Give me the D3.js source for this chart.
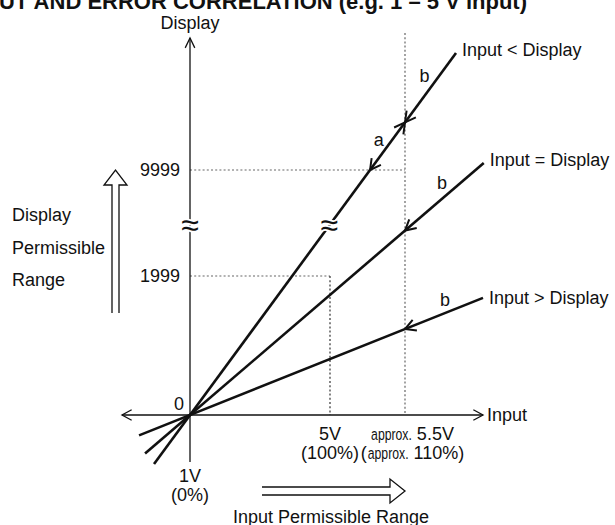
<!DOCTYPE html>
<html>
<head>
<meta charset="utf-8">
<script src="https://d3js.org/d3.v7.min.js"></script>
<style>
  html, body { margin: 0; padding: 0; background: #fff; }
  svg { display: block; }
  text { font-family: "Liberation Sans", Arial, Helvetica, sans-serif; fill: #111; }
</style>
</head>
<body>
<div id="chart"></div>
<script>
// ── chart values (schematic: input in % of span, display in counts) ──
const titleText = 'INPUT AND ERROR CORRELATION (e.g. 1 \u2013 5 V input)';

const xTickValues = [0, 100, 110];
const xTickLine1 = ['1V', '5V', 'approx. 5.5V'];
const xTickLine2 = ['(0%)', '(100%)', '(approx. 110%)'];

const yTickValues = [0, 1999, 9999];
const yTickLabels = ['0', '1999', '9999'];

const lineNames = ['Input < Display', 'Input = Display', 'Input > Display'];
const lineStartX = [-25.7, -32.1, -36.4];
const lineStartY = [-705, -555, -293];
const lineEndX = [116.8, 120.5, 120.4];
const lineEndY = [18829, 10527, 1685];

const breakValue = 5800;          // where the display axis is broken (≈)
const overRangeInput = 110;       // vertical dotted guide
const overRangeDisplay = 9999;    // horizontal dotted guide

const width = 615, height = 525;
const fs = 18;

// piecewise scales: the diagram is not to scale above 100 % / 1999
const x = d3.scaleLinear().domain([0, 100, 110]).range([190, 330, 405]);
const y = d3.scaleLinear().domain([0, 1999, 9999]).range([415, 276, 170]);

const svg = d3.select('#chart').append('svg')
    .attr('width', width)
    .attr('height', height);

// title (clipped at the top in the original)
svg.append('text')
    .attr('x', 527).attr('y', 9)
    .attr('text-anchor', 'end')
    .attr('font-size', 22)
    .attr('font-weight', 'bold')
    .text(titleText);

// ── dotted guides ──
const guides = svg.append('g')
    .attr('stroke', '#666')
    .attr('stroke-width', 1.2)
    .attr('stroke-dasharray', '2,2.2')
    .attr('fill', 'none');

guides.append('line')
    .attr('x1', x(0)).attr('x2', x(overRangeInput))
    .attr('y1', y(overRangeDisplay)).attr('y2', y(overRangeDisplay));
guides.append('line')
    .attr('x1', x(0)).attr('x2', x(100))
    .attr('y1', y(1999)).attr('y2', y(1999));
guides.append('line')
    .attr('x1', x(100)).attr('x2', x(100))
    .attr('y1', y(1999)).attr('y2', y(0))
    .attr('stroke', '#333');
guides.append('line')
    .attr('x1', x(overRangeInput)).attr('x2', x(overRangeInput))
    .attr('y1', 33).attr('y2', y(0));

// ── axes ──
const axes = svg.append('g').attr('stroke', '#111').attr('stroke-width', 1.3).attr('fill', 'none');
const ox = x(0), oy = y(0);
axes.append('line').attr('x1', ox).attr('x2', ox).attr('y1', 462).attr('y2', 38);
axes.append('line').attr('x1', 122).attr('x2', 483).attr('y1', oy).attr('y2', oy);

function openHead(g, tx, ty, angle, len, spread) {
    // angle = direction the arrow points (radians)
    const a1 = angle + Math.PI - spread, a2 = angle + Math.PI + spread;
    g.append('path')
        .attr('d', `M${tx + len * Math.cos(a1)},${ty + len * Math.sin(a1)} L${tx},${ty} L${tx + len * Math.cos(a2)},${ty + len * Math.sin(a2)}`);
}
openHead(axes, ox, 38, -Math.PI / 2, 11, 0.45);
openHead(axes, 483, oy, 0, 11, 0.5);
openHead(axes, 122, oy, Math.PI, 11, 0.5);

// ── characteristic lines ──
const lines = lineNames.map((name, i) => ({
    name,
    x0: x(lineStartX[i]), y0: y(lineStartY[i]),
    x1: x(lineEndX[i]), y1: y(lineEndY[i])
}));

const lineG = svg.append('g');
lineG.selectAll('line')
    .data(lines)
    .join('line')
    .attr('x1', d => d.x0).attr('y1', d => d.y0)
    .attr('x2', d => d.x1).attr('y2', d => d.y1)
    .attr('stroke', '#111')
    .attr('stroke-width', 2.6)
    .attr('stroke-linecap', 'butt');

// point on a line at a given pixel x or y
function pointAtX(d, px) {
    const t = (px - d.x0) / (d.x1 - d.x0);
    return [px, d.y0 + t * (d.y1 - d.y0)];
}
function pointAtY(d, py) {
    const t = (py - d.y0) / (d.y1 - d.y0);
    return [d.x0 + t * (d.x1 - d.x0), py];
}

// arrowheads: dir -1 points toward the origin, +1 away from it
const arrowSpecs = [
    { line: 0, at: 'x', value: overRangeInput, dir: -1 },
    { line: 0, at: 'x', value: overRangeInput, dir: 1 },
    { line: 0, at: 'y', value: overRangeDisplay, dir: -1 },
    { line: 1, at: 'x', value: overRangeInput, dir: -1 },
    { line: 2, at: 'x', value: overRangeInput, dir: -1 }
];
const arrowG = svg.append('g').attr('stroke', '#111').attr('stroke-width', 2).attr('fill', 'none');
arrowSpecs.forEach(s => {
    const d = lines[s.line];
    const p = s.at === 'x' ? pointAtX(d, x(s.value)) : pointAtY(d, y(s.value));
    let ang = Math.atan2(d.y1 - d.y0, d.x1 - d.x0);
    if (s.dir < 0) ang += Math.PI;
    openHead(arrowG, p[0], p[1], ang, 12, 0.5);
});

// a / b labels along the lines
function labelAlong(d, pA, pB, t, off, txt) {
    const len = Math.hypot(d.x1 - d.x0, d.y1 - d.y0);
    const ux = (d.x1 - d.x0) / len, uy = (d.y1 - d.y0) / len;
    const px = pA[0] + t * (pB[0] - pA[0]) - Math.abs(uy) * off;
    const py = pA[1] + t * (pB[1] - pA[1]) - Math.abs(ux) * off;
    svg.append('text')
        .attr('x', px).attr('y', py)
        .attr('dy', '0.35em')
        .attr('text-anchor', 'middle')
        .attr('font-size', fs)
        .text(txt);
}
lines.forEach(d => {
    const pA = pointAtX(d, x(overRangeInput));
    labelAlong(d, pA, [d.x1, d.y1], 0.57, 12, 'b');
});
labelAlong(lines[0], pointAtY(lines[0], y(overRangeDisplay)), pointAtX(lines[0], x(overRangeInput)), 0.5, 11, 'a');

// line names
svg.append('g').selectAll('text')
    .data(lines)
    .join('text')
    .attr('x', d => d.x1 + 6)
    .attr('y', (d, i) => d.y1 + [3, 3, 6][i])
    .attr('font-size', fs)
    .text(d => d.name);

// ── break marks ──
const breakY = y(breakValue);
const breaks = [[ox, breakY], pointAtY(lines[0], breakY)];
svg.append('g').selectAll('text')
    .data(breaks)
    .join('text')
    .attr('x', d => d[0]).attr('y', d => d[1])
    .attr('dy', '0.32em')
    .attr('text-anchor', 'middle')
    .attr('font-size', 32)
    .attr('stroke', '#fff')
    .attr('stroke-width', 3.5)
    .attr('paint-order', 'stroke')
    .text('\u2248');

// ── tick labels ──
svg.append('g').selectAll('text')
    .data(yTickValues)
    .join('text')
    .attr('x', d => d === 0 ? ox - 6 : ox - 10)
    .attr('y', d => d === 0 ? oy - 5 : y(d) + 6)
    .attr('text-anchor', 'end')
    .attr('font-size', fs)
    .text((d, i) => yTickLabels[i]);

// x tick labels; "approx." is set condensed as in the original
const condense = 0.72, wordGap = 5;
function tickText(labels, yPos) {
    xTickValues.forEach((v, i) => {
        const label = labels[i];
        const cx = x(v) + (i === 2 ? 8 : 0);
        const yy = yPos(i);
        const k = label.indexOf('approx.');
        if (k < 0) {
            svg.append('text')
                .attr('x', cx).attr('y', yy)
                .attr('text-anchor', 'middle')
                .attr('font-size', fs)
                .text(label);
            return;
        }
        const g = svg.append('g');
        const parts = [];
        if (k > 0) parts.push({ t: label.slice(0, k), narrow: false });
        parts.push({ t: 'approx.', narrow: true });
        parts.push({ t: label.slice(k + 8), narrow: false });
        let cursor = 0;
        parts.forEach(p => {
            const t = g.append('text')
                .attr('y', yy)
                .attr('font-size', p.narrow ? 17 : fs)
                .text(p.t);
            if (p.narrow) {
                t.attr('transform', `translate(${cursor},0) scale(${condense},1)`);
                cursor += t.node().getComputedTextLength() * condense + wordGap;
            } else {
                t.attr('x', cursor);
                cursor += t.node().getComputedTextLength() + 1;
            }
        });
        g.attr('transform', `translate(${cx - cursor / 2},0)`);
    });
}
tickText(xTickLine1, i => i === 0 ? 482 : 440);
tickText(xTickLine2, i => i === 0 ? 501 : 459);

// axis titles
svg.append('text')
    .attr('x', ox).attr('y', 29)
    .attr('text-anchor', 'middle')
    .attr('font-size', fs)
    .text('Display');
svg.append('text')
    .attr('x', 487).attr('y', oy + 6)
    .attr('font-size', fs)
    .text('Input');

// ── permissible range arrows ──
const hollow = svg.append('g').attr('stroke', '#111').attr('stroke-width', 1.3).attr('fill', '#fff');
hollow.append('path')
    .attr('d', 'M112,313 L112,185 L104,185 L115.5,170 L127,185 L119,185 L119,313');
hollow.append('path')
    .attr('d', 'M262,487 L390,487 L390,479 L405,491 L390,503 L390,495 L262,495');

svg.append('g').selectAll('text')
    .data(['Display', 'Permissible', 'Range'])
    .join('text')
    .attr('x', 12)
    .attr('y', (d, i) => 221 + i * 32.5)
    .attr('font-size', fs)
    .text(d => d);

svg.append('text')
    .attr('x', 331).attr('y', 523)
    .attr('text-anchor', 'middle')
    .attr('font-size', fs)
    .text('Input Permissible Range');
</script>
</body>
</html>
